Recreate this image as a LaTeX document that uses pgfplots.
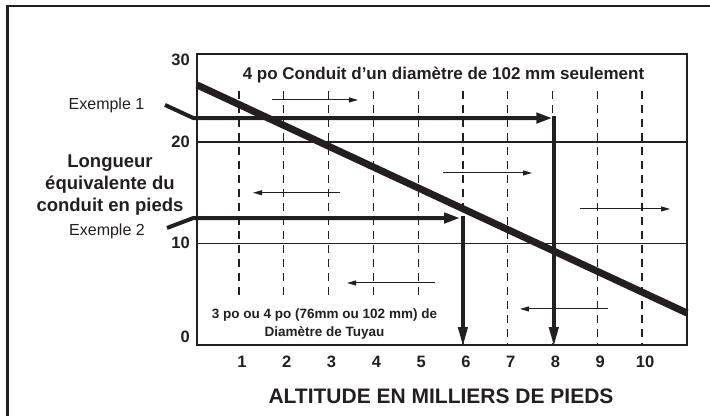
\documentclass[border=0pt]{standalone}
\usepackage{pgfplots}
\pgfplotsset{compat=1.18}
\usetikzlibrary{arrows.meta}
\usepackage{fontspec}
\setmainfont{Liberation Sans}
\definecolor{ink}{HTML}{231F20}
\newcommand\tl[1]{{\fontsize{16.5bp}{18bp}\selectfont\bfseries #1}}

\begin{document}
\begin{tikzpicture}
\useasboundingbox (0bp,0bp) rectangle (710bp,416bp);
\draw[ink, line width=2.5bp] (7.5bp,-2bp) -- (7.5bp,410bp) -- (712bp,410bp);
\begin{axis}[at={(197bp,71bp)}, anchor=south west, scale only axis,
 width=490bp, height=291bp,
 xmin=0.062, xmax=11.004, ymin=0, ymax=28.67,
 axis line style={ink, line width=1.5bp},
 xtick={1,2,3,4,5,6,7,8,9,10},
 xticklabels={\tl{1},\tl{2},\tl{3},\tl{4},\tl{5},\tl{6},\tl{7},\tl{8},\tl{9},\tl{10}},
 ytick={0.79,10.05,20,28.08}, yticklabels={\tl{0},\tl{10},\tl{20},\tl{30}},
 major tick length=0pt,
 xticklabel style={text=ink, anchor=base, yshift=-23bp, xshift=3bp},
 yticklabel style={text=ink, anchor=east, xshift=-7bp, inner sep=0pt},
 clip=false,
]
% dashed altitude lines
\addplot[ink, line width=1.2bp, dash pattern=on 8bp off 6bp] coordinates {(1,25) (1,4.63)};
\addplot[ink, line width=1.2bp, dash pattern=on 8bp off 6bp] coordinates {(2,25) (2,4.63)};
\addplot[ink, line width=1.2bp, dash pattern=on 8bp off 6bp] coordinates {(3,25) (3,4.63)};
\addplot[ink, line width=1.2bp, dash pattern=on 8bp off 6bp] coordinates {(4,25) (4,4.63)};
\addplot[ink, line width=1.2bp, dash pattern=on 8bp off 6bp] coordinates {(5,25) (5,4.63)};
\addplot[ink, line width=1.2bp, dash pattern=on 8bp off 6bp] coordinates {(6,25) (6,0)};
\addplot[ink, line width=1.2bp, dash pattern=on 8bp off 6bp] coordinates {(7,25) (7,0)};
\addplot[ink, line width=1.2bp, dash pattern=on 8bp off 6bp] coordinates {(8,25) (8,0)};
\addplot[ink, line width=1.2bp, dash pattern=on 8bp off 6bp] coordinates {(9,25) (9,0)};
\addplot[ink, line width=1.2bp, dash pattern=on 8bp off 6bp] coordinates {(10,25) (10,0)};
% horizontal lines
\addplot[ink, line width=1.3bp] coordinates {(0.062,10) (11.004,10)};
\addplot[ink, line width=1.3bp] coordinates {(0.062,20) (11.004,20)};
% main diagonal
\addplot[ink, line width=7bp] coordinates {(0.062,25.62) (11.004,3.15)};
% example 1
\addplot[ink, line width=4bp, line join=miter, -{Triangle[length=16bp,width=10bp]}] coordinates {(-0.652,23.65) (-0.02,22.36) (8.0,22.36)};
\addplot[ink, line width=4bp, -{Triangle[length=20bp,width=9bp]}] coordinates {(8.03,22.56) (8.03,-0.2)};
% example 2
\addplot[ink, line width=4bp, line join=miter, -{Triangle[length=16bp,width=10bp]}] coordinates {(-0.608,11.53) (-0.02,12.51) (5.94,12.51)};
\addplot[ink, line width=4bp, -{Triangle[length=20bp,width=9bp]}] coordinates {(6.0,12.7) (6.0,-0.2)};
% thin arrows
\addplot[ink, line width=1bp, -{Triangle[length=9bp,width=5bp]}] coordinates {(1.737,24.14) (3.657,24.14)};
\addplot[ink, line width=1bp, -{Triangle[length=9bp,width=5bp]}] coordinates {(3.255,15.0) (1.313,15.0)};
\addplot[ink, line width=1bp, -{Triangle[length=9bp,width=5bp]}] coordinates {(5.556,16.95) (7.543,16.95)};
\addplot[ink, line width=1bp, -{Triangle[length=9bp,width=5bp]}] coordinates {(8.615,13.40) (10.625,13.40)};
\addplot[ink, line width=1bp, -{Triangle[length=9bp,width=5bp]}] coordinates {(5.377,6.11) (3.412,6.11)};
\addplot[ink, line width=1bp, -{Triangle[length=9bp,width=5bp]}] coordinates {(9.24,3.55) (7.275,3.55)};
\end{axis}
% texts
\node[anchor=base, inner sep=0pt, text=ink, font=\fontsize{17bp}{20bp}\selectfont\bfseries] at (443.5bp,336bp) {4 po Conduit d’un diamètre de 102 mm seulement};
\node[anchor=base, inner sep=0pt, text=ink, font=\fontsize{21bp}{24bp}\selectfont\bfseries] at (441bp,13bp) {ALTITUDE EN MILLIERS DE PIEDS};
\node[anchor=base, inner sep=0pt, text=ink, font=\fontsize{18.5bp}{22bp}\selectfont\bfseries] at (110bp,248bp) {Longueur};
\node[anchor=base, inner sep=0pt, text=ink, font=\fontsize{18.5bp}{22bp}\selectfont\bfseries] at (110bp,226bp) {équivalente du};
\node[anchor=base, inner sep=0pt, text=ink, font=\fontsize{18.5bp}{22bp}\selectfont\bfseries] at (110bp,204bp) {conduit en pieds};
\node[anchor=base, inner sep=0pt, text=ink, font=\fontsize{16bp}{18bp}\selectfont] at (106.5bp,306bp) {Exemple 1};
\node[anchor=base, inner sep=0pt, text=ink, font=\fontsize{16bp}{18bp}\selectfont] at (107bp,180bp) {Exemple 2};
\node[anchor=base, inner sep=0pt, text=ink, font=\fontsize{13.5bp}{16bp}\selectfont\bfseries] at (324.5bp,97bp) {3 po ou 4 po (76mm ou 102 mm) de};
\node[anchor=base, inner sep=0pt, text=ink, font=\fontsize{13.5bp}{16bp}\selectfont\bfseries] at (324.5bp,79bp) {Diamètre de Tuyau};
\end{tikzpicture}
\end{document}
